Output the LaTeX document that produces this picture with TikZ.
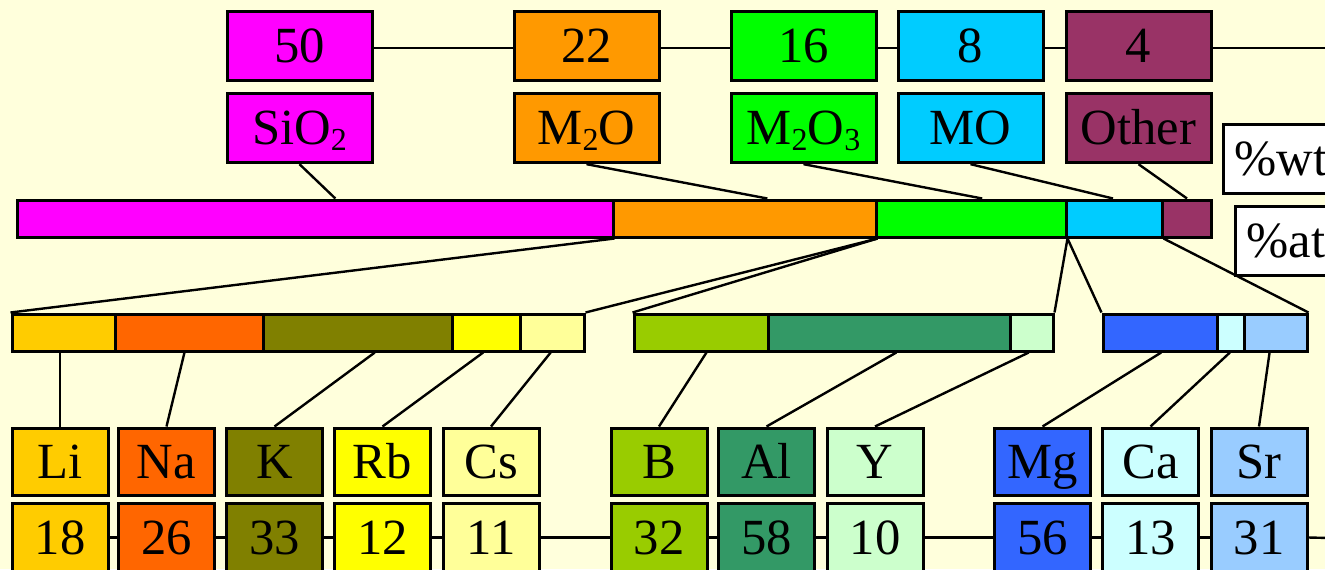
\documentclass[tikz,border=0pt]{standalone}
\usepackage{fontspec}
\setmainfont{Liberation Serif}
\usetikzlibrary{calc}
\newcommand{\lowsub}[1]{\raisebox{-4.5pt}{\fontsize{24}{24}\selectfont #1}}
\definecolor{bg}{HTML}{FFFFDC}
\definecolor{cSi}{HTML}{FF00FF}
\definecolor{cMtwoO}{HTML}{FF9900}
\definecolor{cMtwoOthree}{HTML}{00FF00}
\definecolor{cMO}{HTML}{00CCFF}
\definecolor{cOt}{HTML}{993366}
\definecolor{cLi}{HTML}{FFCC00}
\definecolor{cNa}{HTML}{FF6600}
\definecolor{cK}{HTML}{808000}
\definecolor{cRb}{HTML}{FFFF00}
\definecolor{cCs}{HTML}{FFFF99}
\definecolor{cB}{HTML}{99CC00}
\definecolor{cAl}{HTML}{339966}
\definecolor{cY}{HTML}{CCFFCC}
\definecolor{cMg}{HTML}{3366FF}
\definecolor{cCa}{HTML}{CCFFFF}
\definecolor{cSr}{HTML}{99CCFF}
\begin{document}
\begin{tikzpicture}[x=0.75pt,y=-0.75pt,
  txt/.style={font=\fontsize{38}{40}\selectfont, text height=25pt, text depth=0pt, inner sep=0pt},
  frame/.style={draw=black, line width=2.25pt},
  topbox/.style={frame, txt, minimum width=108.75pt, minimum height=52pt},
  ebox/.style={frame, txt, minimum width=72pt, minimum height=50.25pt},
  nbox/.style={frame, txt, minimum width=72pt, minimum height=51.75pt},
  seg/.style={frame, inner sep=0pt, minimum height=27.75pt},
  wd/.style={minimum width=#1*0.75pt},
  tagbox/.style={frame, fill=white, txt, anchor=west, inner xsep=8.25pt, minimum height=51.75pt},
  link/.style={draw=black, line width=1.8pt}]
\clip (0,0) rectangle (1325,569);
\fill[bg] (0,0) rectangle (1325,569);

% top row: values
\node[topbox, fill=cSi] (vSi) at (299.5,46) {50};
\node[topbox, fill=cMtwoO] (vMtwoO) at (586.5,46) {22};
\node[topbox, fill=cMtwoOthree] (vMtwoOthree) at (803.5,46) {16};
\node[topbox, fill=cMO] (vMO) at (970.5,46) {8};
\node[topbox, fill=cOt] (vOt) at (1138.5,46) {4};
\coordinate (rTop) at (1330,48);

% second row: labels
\node[topbox, fill=cSi] (lSi) at (299.5,128) {SiO\lowsub{2}};
\node[topbox, fill=cMtwoO] (lMtwoO) at (586.5,128) {M\lowsub{2}O};
\node[topbox, fill=cMtwoOthree] (lMtwoOthree) at (803.5,128) {M\lowsub{2}O\lowsub{3}};
\node[topbox, fill=cMO] (lMO) at (970.5,128) {MO};
\node[topbox, fill=cOt] (lOt) at (1138.5,128) {Other};

\node[tagbox] (twt) at (1222,158.5) {\%wt};
\node[tagbox] (tat) at (1234,241) {\%at};

% main bar
\node[seg, fill=cSi, wd=596] (sSi) at (315,218.5) {};
\node[seg, fill=cMtwoO, wd=263] (sMtwoO) at (744.5,218.5) {};
\node[seg, fill=cMtwoOthree, wd=190] (sMtwoOthree) at (971,218.5) {};
\node[seg, fill=cMO, wd=96] (sMO) at (1114,218.5) {};
\node[seg, fill=cOt, wd=49] (sOt) at (1186.5,218.5) {};

% sub bars
\node[seg, fill=cLi, wd=103] (bLi) at (63.5,332.5) {};
\node[seg, fill=cNa, wd=148] (bNa) at (189,332.5) {};
\node[seg, fill=cK, wd=189] (bK) at (357.5,332.5) {};
\node[seg, fill=cRb, wd=68] (bRb) at (486,332.5) {};
\node[seg, fill=cCs, wd=64] (bCs) at (552,332.5) {};
\node[seg, fill=cB, wd=134] (bB) at (701,332.5) {};
\node[seg, fill=cAl, wd=242] (bAl) at (889,332.5) {};
\node[seg, fill=cY, wd=43] (bY) at (1031.5,332.5) {};
\node[seg, fill=cMg, wd=114] (bMg) at (1160,332.5) {};
\node[seg, fill=cCa, wd=27] (bCa) at (1230.5,332.5) {};
\node[seg, fill=cSr, wd=63] (bSr) at (1275.5,332.5) {};

% element boxes
\foreach \n/\x/\c/\v in {Li/60/cLi/18, Na/166.5/cNa/26, K/274.5/cK/33, Rb/382.5/cRb/12, Cs/491/cCs/11,
  B/659/cB/32, Al/766.5/cAl/58, Y/875/cY/10, Mg/1042.5/cMg/56, Ca/1150.5/cCa/13, Sr/1259/cSr/31}{
  \node[ebox, fill=\c] (e\n) at (\x,461.5) {\n};
  \node[nbox, fill=\c] (n\n) at (\x,537.5) {\v};
}
\coordinate (rBot) at (1330,538);

% top value chain (slightly below box centres, as in the original)
\draw[link] ($(vSi.east)+(0,2)$) -- ($(vMtwoO.west)+(0,2)$);
\draw[link] ($(vMtwoO.east)+(0,2)$) -- ($(vMtwoOthree.west)+(0,2)$);
\draw[link] ($(vMtwoOthree.east)+(0,2)$) -- ($(vMO.west)+(0,2)$);
\draw[link] ($(vMO.east)+(0,2)$) -- ($(vOt.west)+(0,2)$);
\draw[link] ($(vOt.east)+(0,2)$) -- (rTop);

% labels to main bar
\draw[link] (lSi.south) -- ($(sSi.north west)!0.534!(sSi.north east)$);
\draw[link] (lMtwoO.south) -- ($(sMtwoO.north west)!0.586!(sMtwoO.north east)$);
\draw[link] (lMtwoOthree.south) -- ($(sMtwoOthree.north west)!0.558!(sMtwoOthree.north east)$);
\draw[link] (lMO.south) -- ($(sMO.north west)!0.49!(sMO.north east)$);
\draw[link] (lOt.south) -- ($(sOt.north west)!0.51!(sOt.north east)$);

% main bar to sub bars
\draw[link] (sSi.south east) -- (bLi.north west);
\draw[link] (sMtwoO.south east) -- (bCs.north east);
\draw[link] (sMtwoO.south east) -- (bB.north west);
\draw[link] (sMtwoOthree.south east) -- (bY.north east);
\draw[link] (sMtwoOthree.south east) -- (bMg.north west);
\draw[link] (sMO.south east) -- (bSr.north east);

% sub bars to element boxes
\draw[link] (eLi.north |- bLi.south) -- (eLi.north);
\foreach \n/\f in {Na/0.47, K/0.59, Rb/0.46, Cs/0.48, B/0.54, Al/0.53, Y/0.44, Mg/0.51, Ca/0.48, Sr/0.41}{
  \draw[link] ($(b\n.south west)!\f!(b\n.south east)$) -- (e\n.north);
}

% bottom value chain
\draw[link] (nLi.east) -- (nNa.west);
\draw[link] (nNa.east) -- (nK.west);
\draw[link] (nK.east) -- (nRb.west);
\draw[link] (nRb.east) -- (nCs.west);
\draw[link] (nCs.east) -- (nB.west);
\draw[link] (nB.east) -- (nAl.west);
\draw[link] (nAl.east) -- (nY.west);
\draw[link] (nY.east) -- (nMg.west);
\draw[link] (nMg.east) -- (nCa.west);
\draw[link] (nCa.east) -- (nSr.west);
\draw[link] (nSr.east) -- (rBot);
\end{tikzpicture}
\end{document}
